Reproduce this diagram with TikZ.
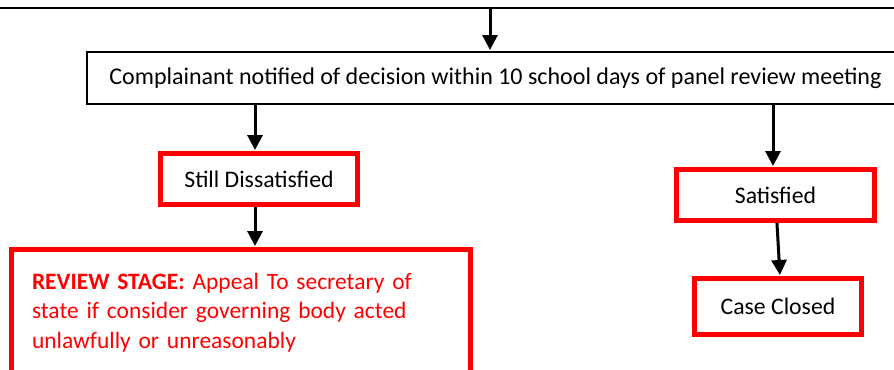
\documentclass[tikz,border=0pt]{standalone}
\usepackage{fontspec}
\setmainfont{Carlito}
\usetikzlibrary{arrows.meta}
\newcommand\pxu{0.75pt}
\tikzset{
  blackbox/.style={draw=black, line width=2*\pxu, rectangle, inner sep=0pt, font=\fontsize{18pt}{22pt}\selectfont},
  redbox/.style={draw=red, line width=5*\pxu, rectangle, inner sep=0pt, fill=white, font=\fontsize{17.8pt}{22pt}\selectfont},
  arr/.style={draw=black, line width=3*\pxu, -{Triangle[width=15*\pxu,length=15*\pxu]}, shorten >=1*\pxu}
}
\begin{document}
\begin{tikzpicture}[x=0.75pt, y=-0.75pt]
\useasboundingbox (0,0) rectangle (894,369);
\clip (0,0) rectangle (894,369);
\node[blackbox, minimum width=914*\pxu, minimum height=50*\pxu] (prev) at (447,-17) {};
\node[blackbox, minimum width=817*\pxu, minimum height=52*\pxu] (main) at (495.5,78) {Complainant notified of decision within 10 school days of panel review meeting};
\node[redbox, minimum width=197*\pxu, minimum height=51*\pxu] (sd) at (259,179) {Still Dissatisfied};
\node[redbox, minimum width=198*\pxu, minimum height=51*\pxu] (sat) at (775.5,195) {Satisfied};
\node[redbox, minimum width=167*\pxu, minimum height=56*\pxu] (cc) at (778,306.5) {Case Closed};
\node[redbox, text=red, minimum width=459*\pxu, minimum height=126*\pxu, inner xsep=20.5*\pxu, text width=418*\pxu, align=left, font=\fontsize{17.6pt}{22pt}\selectfont] (rev) at (241,312.5) {\textbf{REVIEW STAGE:} Appeal To secretary of\\state if consider governing body acted\\unlawfully or unreasonably};
\coordinate (c1) at (490,0);
\coordinate (c2) at (255,0);
\coordinate (c3) at (773,0);
\draw[arr] (c1 |- prev.south) -- (c1 |- main.north);
\draw[arr] (c2 |- main.south) -- (c2 |- sd.north);
\draw[arr] (c2 |- sd.south) -- (c2 |- rev.north);
\draw[arr] (c3 |- main.south) -- (c3 |- sat.north);
\draw[arr] ([xshift=1.1pt]sat.south) -- ([xshift=1.5pt]cc.north);
\end{tikzpicture}
\end{document}
